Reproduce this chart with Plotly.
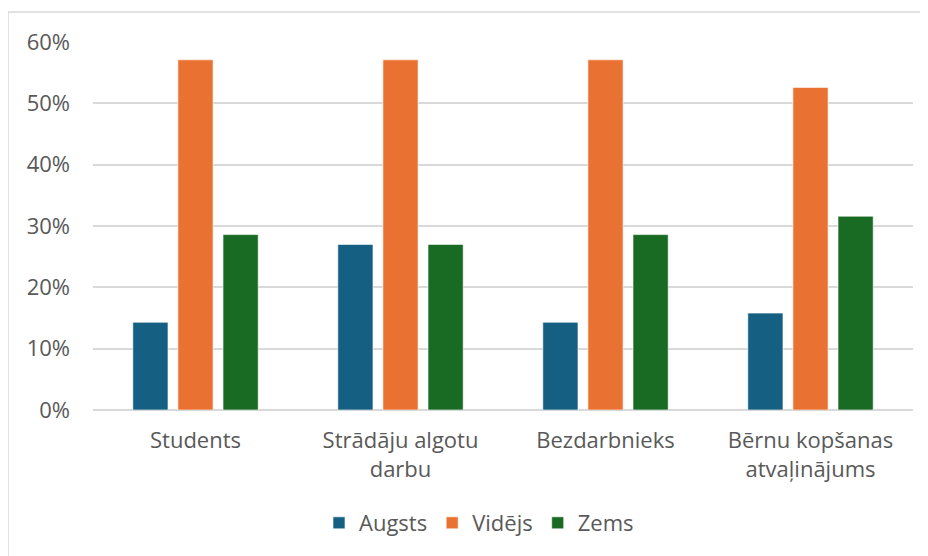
import plotly.graph_objects as go

categories = ['Students', 'Strādāju algotu<br>darbu', 'Bezdarbnieks', 'Bērnu kopšanas<br>atvaļinājums']
augsts = [0.143, 0.270, 0.143, 0.158]
videjs = [0.571, 0.571, 0.571, 0.526]
zems = [0.286, 0.270, 0.286, 0.316]

series = [
	('Augsts', augsts, '#156082'),
	('Vidējs', videjs, '#E97132'),
	('Zems', zems, '#196B24'),
]

# page body has an 8px offset, so positions are shifted back by 8
off = 8
W, H = 928, 556
ml, mr, mt, mb = 93 - off, 15 + off, 42 - off, 146 + off
pw = W - ml - mr
ph = H - mt - mb

fig = go.Figure()
for name, vals, col in series:
	fig.add_trace(go.Bar(x=categories, y=vals, name=name, marker_color=col,
		marker_line=dict(color='rgba(255,255,255,0.6)', width=1)))

txt = dict(family='Open Sans, Liberation Sans, sans-serif', size=22, color='#595959')

fig.update_layout(
	width=W, height=H,
	margin=dict(l=ml, r=mr, t=mt, b=mb),
	paper_bgcolor='white', plot_bgcolor='white',
	barmode='group', bargap=0.34, bargroupgap=0.22,
	font=txt,
	legend=dict(orientation='h', x=(479 - 93) / pw, xanchor='center', y=(410 - 523) / ph, yanchor='middle',
		font=txt, itemwidth=30, traceorder='normal'),
	xaxis=dict(showgrid=False, showline=False, ticks='', tickfont=txt, ticklabelstandoff=15),
	yaxis=dict(range=[0, 0.6], dtick=0.1, tickformat='.0%', gridcolor='#D9D9D9', gridwidth=1.5,
		zeroline=True, zerolinecolor='#D9D9D9', zerolinewidth=1.5, showline=False,
		tickfont=txt, ticklabelstandoff=22),
	shapes=[dict(type='rect', xref='paper', yref='paper',
		x0=(8 - 93) / pw, x1=(940 - 93) / pw,
		y0=(410 - 570) / ph, y1=(410 - 12) / ph,
		line=dict(color='#D9D9D9', width=1.5), layer='below')],
)

fig.write_html('out.html')
